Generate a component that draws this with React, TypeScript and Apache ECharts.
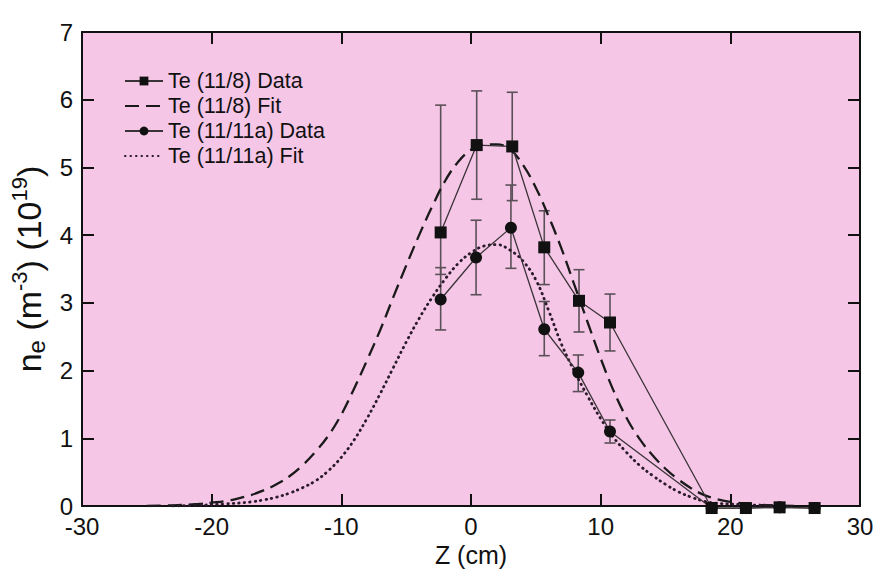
import React, { useEffect, useRef } from "react";
import * as echarts from "echarts";

// Axial electron-density profiles: measured points with error bars and fitted curves
const zSquare = [-2.34, 0.44, 3.18, 5.65, 8.33, 10.72, 18.56, 21.2, 23.8, 26.5];
const neSquare = [4.04, 5.33, 5.31, 3.82, 3.03, 2.71, -0.03, -0.03, -0.02, -0.03];
const squareLow = [3.42, 4.53, 4.51, 3.27, 2.57, 2.29];
const squareHigh = [5.92, 6.13, 6.11, 4.36, 3.49, 3.13];

const zCircle = [-2.34, 0.39, 3.08, 5.65, 8.27, 10.72, 18.56, 21.2, 23.8, 26.5];
const neCircle = [3.05, 3.67, 4.11, 2.61, 1.97, 1.1, -0.03, -0.03, -0.02, -0.03];
const circleLow = [2.6, 3.12, 3.51, 2.22, 1.69, 0.93];
const circleHigh = [3.52, 4.22, 4.74, 3.02, 2.23, 1.27];

// Fit curves, sampled along Z
const zFit8 = [-25, -23, -21, -20, -19, -18, -17, -16, -15, -14, -13, -12, -11, -10, -9, -8, -7, -6, -5, -4, -3, -2, -1, 0, 1, 2, 3, 4, 5, 6, 7, 8, 9, 10, 11, 12, 13, 14, 15, 16, 17, 18, 19, 20, 22, 25];
const neFit8 = [0.0, 0.01, 0.03, 0.05, 0.07, 0.11, 0.16, 0.23, 0.32, 0.44, 0.6, 0.8, 1.04, 1.35, 1.74, 2.16, 2.6, 3.08, 3.55, 4.0, 4.42, 4.8, 5.08, 5.26, 5.34, 5.34, 5.27, 5.04, 4.7, 4.27, 3.79, 3.25, 2.71, 2.18, 1.7, 1.3, 0.99, 0.75, 0.55, 0.39, 0.26, 0.16, 0.1, 0.06, 0.02, 0.0];

const zFit11 = [-23, -21, -19, -17, -16, -15, -14, -13, -12, -11, -10, -9, -8, -7, -6, -5, -4, -3, -2, -1, 0, 1, 2, 3, 4, 5, 6, 7, 8, 9, 10, 11, 12, 13, 14, 15, 16, 17, 18, 19, 21, 24];
const neFit11 = [0.0, 0.01, 0.03, 0.06, 0.09, 0.13, 0.19, 0.27, 0.37, 0.52, 0.72, 0.98, 1.3, 1.66, 2.04, 2.42, 2.77, 3.08, 3.35, 3.58, 3.74, 3.84, 3.86, 3.78, 3.62, 3.34, 2.88, 2.38, 1.98, 1.62, 1.29, 1.01, 0.79, 0.6, 0.45, 0.32, 0.21, 0.13, 0.07, 0.04, 0.02, 0.0];

const xTicks = [-30, 30, 10];
const yTicks = [0, 7, 1];

const FONT = "'Liberation Sans', Arial, Helvetica, sans-serif";
const INK = "#111";

const pairs = (xs: number[], ys: number[]) => xs.map((x, i) => [x, ys[i]]);
const errRows = (xs: number[], lo: number[], hi: number[]) => lo.map((l, i) => [xs[i], l, hi[i]]);

const errorBars = (rows: number[][]) => ({
  type: "custom",
  data: rows,
  encode: { x: 0, y: [1, 2] },
  z: 1,
  silent: true,
  renderItem: (_params: any, api: any) => {
    const x = api.value(0);
    const top = api.coord([x, api.value(2)]);
    const bot = api.coord([x, api.value(1)]);
    const half = 5.5;
    const style = { stroke: "#5a5057", lineWidth: 1.6 };
    return {
      type: "group",
      children: [
        { type: "line", shape: { x1: top[0], y1: top[1], x2: bot[0], y2: bot[1] }, style },
        { type: "line", shape: { x1: top[0] - half, y1: top[1], x2: top[0] + half, y2: top[1] }, style },
        { type: "line", shape: { x1: bot[0] - half, y1: bot[1], x2: bot[0] + half, y2: bot[1] }, style },
      ],
    };
  },
});

const axisCommon = {
  axisLine: { show: true, onZero: false, lineStyle: { color: INK, width: 2 } },
  axisTick: { show: true, inside: true, length: 12, lineStyle: { color: INK, width: 2 } },
  splitLine: { show: false },
};

export default function App() {
  const ref = useRef<HTMLDivElement>(null);

  useEffect(() => {
    if (!ref.current) return;
    const chart = echarts.init(ref.current, undefined, { renderer: "svg" });
    chart.setOption({
      animation: false,
      backgroundColor: "#ffffff",
      textStyle: { fontFamily: FONT },
      grid: {
        left: 82,
        right: 19,
        top: 32,
        bottom: 67,
        show: true,
        backgroundColor: "#f5c6e6",
        borderWidth: 0,
      },
      legend: {
        left: 119,
        top: 65,
        orient: "vertical",
        itemWidth: 38,
        itemHeight: 11,
        itemGap: 3,
        textStyle: { fontFamily: FONT, fontSize: 21.5, color: INK, lineHeight: 21 },
        data: [
          { name: "Te (11/8) Data" },
          { name: "Te (11/8) Fit", itemStyle: { opacity: 0 } },
          { name: "Te (11/11a) Data" },
          { name: "Te (11/11a) Fit", itemStyle: { opacity: 0 } },
        ],
      },
      xAxis: [
        {
          type: "value",
          min: xTicks[0],
          max: xTicks[1],
          interval: xTicks[2],
          position: "bottom",
          name: "Z (cm)",
          nameLocation: "middle",
          nameGap: 34,
          nameTextStyle: { fontFamily: FONT, fontSize: 25, color: INK },
          axisLabel: { fontFamily: FONT, fontSize: 24, color: INK, margin: 8 },
          ...axisCommon,
        },
        {
          type: "value",
          min: xTicks[0],
          max: xTicks[1],
          interval: xTicks[2],
          position: "top",
          axisLabel: { show: false },
          ...axisCommon,
        },
      ],
      yAxis: [
        {
          type: "value",
          min: yTicks[0],
          max: yTicks[1],
          interval: yTicks[2],
          position: "left",
          name: "n{sub|e} (m{sup|-3}) (10{sup|19})",
          nameLocation: "middle",
          nameRotate: 90,
          nameGap: 23,
          nameTextStyle: {
            fontFamily: FONT,
            fontSize: 34,
            color: INK,
            lineHeight: 40,
            rich: {
              sub: { fontFamily: FONT, fontSize: 24, color: INK, verticalAlign: "bottom", lineHeight: 40 },
              sup: { fontFamily: FONT, fontSize: 22, color: INK, verticalAlign: "top", lineHeight: 40 },
            },
          },
          axisLabel: { fontFamily: FONT, fontSize: 24, color: INK, margin: 9 },
          ...axisCommon,
        },
        {
          type: "value",
          min: yTicks[0],
          max: yTicks[1],
          interval: yTicks[2],
          position: "right",
          axisLabel: { show: false },
          ...axisCommon,
        },
      ],
      series: [
        errorBars(errRows(zSquare, squareLow, squareHigh)),
        errorBars(errRows(zCircle, circleLow, circleHigh)),
        {
          name: "Te (11/8) Fit",
          type: "line",
          data: pairs(zFit8, neFit8),
          smooth: 0.4,
          showSymbol: false,
          symbol: "none",
          z: 2,
          lineStyle: { color: "#1a1a1a", width: 2.3, type: [14, 7] },
          itemStyle: { color: "#1a1a1a" },
        },
        {
          name: "Te (11/11a) Fit",
          type: "line",
          data: pairs(zFit11, neFit11),
          smooth: 0.4,
          showSymbol: false,
          symbol: "none",
          z: 2,
          lineStyle: { color: "#2a1a2a", width: 2.8, type: [0.5, 5], cap: "round" },
          itemStyle: { color: "#2a1a2a" },
        },
        {
          name: "Te (11/8) Data",
          type: "line",
          data: pairs(zSquare, neSquare),
          symbol: "rect",
          symbolSize: 12,
          clip: false,
          z: 3,
          lineStyle: { color: "#3a3338", width: 1.3 },
          itemStyle: { color: "#111" },
        },
        {
          name: "Te (11/11a) Data",
          type: "line",
          data: pairs(zCircle, neCircle),
          symbol: "circle",
          symbolSize: 12,
          clip: false,
          z: 3,
          lineStyle: { color: "#3a3338", width: 1.3 },
          itemStyle: { color: "#111" },
        },
      ],
    });
    return () => chart.dispose();
  }, []);

  return <div ref={ref} style={{ position: "fixed", left: 0, top: 0, width: 879, height: 573 }} />;
}
